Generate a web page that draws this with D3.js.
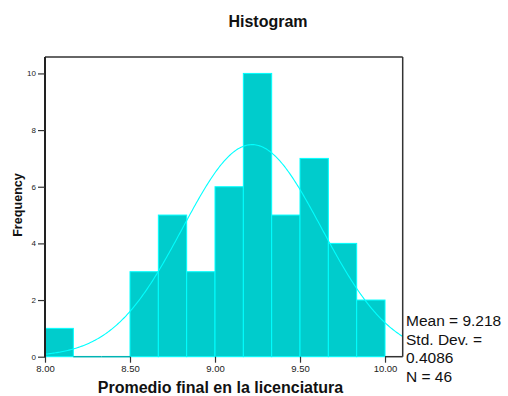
<!DOCTYPE html>
<html><head><meta charset="utf-8">
<script src="https://cdn.jsdelivr.net/npm/d3@7"></script>
<style>body{margin:0;background:#fff;} svg{display:block;font-family:Arial,"Liberation Sans",sans-serif;}</style>
</head><body>
<svg id="c" width="508" height="396"></svg>
<script>
const binEdges = [8.0, 8.1667, 8.3333, 8.5, 8.6667, 8.8333, 9.0, 9.1667, 9.3333, 9.5, 9.6667, 9.8333, 10.0];
const counts = [1, 0, 0, 3, 5, 3, 6, 10, 5, 7, 4, 2];
const xTicks = [8.0, 8.5, 9.0, 9.5, 10.0];
const yTicks = [0, 2, 4, 6, 8, 10];
const stats = {mean: 9.218, sd: 0.4086, n: 46};
const legendLines = ["Mean = 9.218", "Std. Dev. =", "0.4086", "N = 46"];

const svg = d3.select("#c");
const L = 45, R = 402.7, T = 57, B = 356.7;
const x = d3.scaleLinear().domain([8.0, 10.104]).range([L, R]);
const y = d3.scaleLinear().domain([0, 10.58]).range([B, T]);

// bars
const bins = counts.map((c, i) => ({x0: binEdges[i], x1: binEdges[i + 1], c}));
svg.append("g").selectAll("rect").data(bins.filter(d => d.c > 0)).join("rect")
  .attr("x", d => x(d.x0)).attr("width", d => x(d.x1) - x(d.x0))
  .attr("y", d => y(d.c)).attr("height", d => y(0) - y(d.c))
  .attr("fill", "#00cccc").attr("stroke", "#00ffff").attr("stroke-width", 1);
// empty bins drawn as a baseline segment
svg.append("g").selectAll("line").data(bins.filter(d => d.c === 0)).join("line")
  .attr("x1", d => x(d.x0)).attr("x2", d => x(d.x1))
  .attr("y1", y(0)).attr("y2", y(0))
  .attr("stroke", "#00b3b3").attr("stroke-width", 1.5);

// normal curve
const bw = binEdges[1] - binEdges[0];
const pts = d3.range(0, 301).map(i => {
  const v = 8.0 + (10.104 - 8.0) * i / 300;
  const z = (v - stats.mean) / stats.sd;
  return [v, stats.n * bw * Math.exp(-0.5 * z * z) / (stats.sd * Math.sqrt(2 * Math.PI))];
});
svg.append("path").datum(pts)
  .attr("d", d3.line().x(d => x(d[0])).y(d => y(d[1])))
  .attr("fill", "none").attr("stroke", "#00ffff").attr("stroke-width", 1.1);

// frame
svg.append("line").attr("x1", L).attr("x2", R).attr("y1", T).attr("y2", T).attr("stroke", "#333").attr("stroke-width", 1.5);
svg.append("line").attr("x1", R).attr("x2", R).attr("y1", T).attr("y2", B).attr("stroke", "#333").attr("stroke-width", 1.5);
svg.append("line").attr("x1", x(10.0)).attr("x2", R).attr("y1", B).attr("y2", B).attr("stroke", "#333").attr("stroke-width", 1.5);
svg.append("line").attr("x1", L).attr("x2", L).attr("y1", T).attr("y2", B + 0.5).attr("stroke", "#222").attr("stroke-width", 2);

// y axis
const ya = svg.append("g").attr("transform", `translate(${L},0)`)
  .call(d3.axisLeft(y).tickValues(yTicks).tickSize(7).tickPadding(2).tickFormat(d3.format("d")));
ya.select(".domain").remove();
ya.selectAll("line").attr("stroke", "#333").attr("stroke-width", 1.2);
ya.selectAll("text").attr("font-size", 8).attr("fill", "#222").attr("font-family", "Arial");

// x axis
const xa = svg.append("g").attr("transform", `translate(0,${B})`)
  .call(d3.axisBottom(x).tickValues(xTicks).tickSize(6).tickPadding(3).tickFormat(d3.format(".2f")));
xa.select(".domain").remove();
xa.selectAll("line").attr("stroke", "#333").attr("stroke-width", 1.2);
xa.selectAll("text").attr("font-size", 9.5).attr("fill", "#222").attr("font-family", "Arial");

// titles
svg.append("text").attr("x", 268).attr("y", 27).attr("text-anchor", "middle")
  .attr("font-weight", "bold").attr("font-size", 16).attr("fill", "#111").text("Histogram");
svg.append("text").attr("x", 220.5).attr("y", 393).attr("text-anchor", "middle")
  .attr("font-weight", "bold").attr("font-size", 16).attr("fill", "#111").text("Promedio final en la licenciatura");
svg.append("text").attr("transform", "translate(21.5,205) rotate(-90)").attr("text-anchor", "middle")
  .attr("font-weight", "bold").attr("font-size", 12.6).attr("fill", "#111").text("Frequency");

// legend
svg.append("g").selectAll("text").data(legendLines).join("text")
  .attr("x", 406).attr("y", (d, i) => 326 + i * 18.5)
  .attr("font-size", 15.5).attr("fill", "#111").text(d => d);
</script>
</body></html>
